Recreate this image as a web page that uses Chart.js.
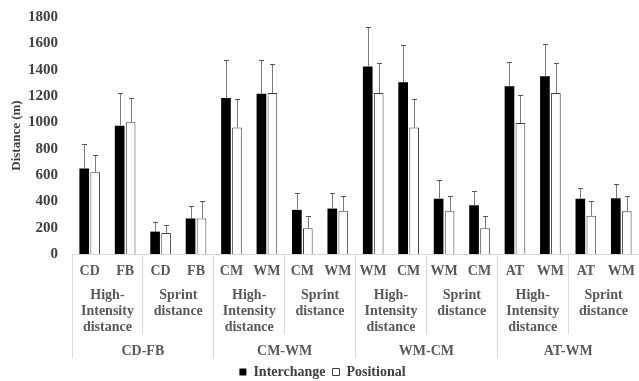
<!DOCTYPE html>
<html>
<head>
<meta charset="utf-8">
<script src="https://cdn.jsdelivr.net/npm/chart.js@4/dist/chart.umd.min.js"></script>
<style>
  body { margin: 0; background: #fff; }
  #wrap { width: 639px; height: 381px; position: relative; }
</style>
</head>
<body>
<div id="wrap"><canvas id="myChart"></canvas></div>
<script>
'use strict';

// positions on the first axis row
let positions = ['CD', 'FB', 'CD', 'FB', 'CM', 'WM', 'CM', 'WM',
                 'WM', 'CM', 'WM', 'CM', 'AT', 'WM', 'AT', 'WM'];
// second row: kind of distance
let distances = [['High-', 'Intensity', 'distance'], ['Sprint', 'distance'],
                 ['High-', 'Intensity', 'distance'], ['Sprint', 'distance'],
                 ['High-', 'Intensity', 'distance'], ['Sprint', 'distance'],
                 ['High-', 'Intensity', 'distance'], ['Sprint', 'distance']];
// third row: substitution
let pairs = ['CD-FB', 'CM-WM', 'WM-CM', 'AT-WM'];

let interchange   = [650, 975, 170, 270, 1185, 1217, 335, 345, 1425, 1305, 420, 370, 1275, 1350, 420, 423];
let interchangeSD = [185, 248, 70, 95, 290, 256, 130, 115, 300, 282, 143, 112, 180, 246, 83, 107];
let positional    = [620, 1000, 160, 270, 960, 1222, 195, 325, 1222, 960, 325, 195, 995, 1222, 290, 325];
let positionalSD  = [130, 188, 63, 130, 218, 223, 94, 114, 226, 218, 116, 94, 212, 226, 111, 116];

let yTicks = { min: 0, max: 1800, step: 200 };

let serif = 'Liberation Serif';
let lineGray = '#d9d9d9';

// draws the +SD whiskers on top of each bar
let errorBars = {
  id: 'errorBars',
  afterDatasetsDraw(chart) {
    let ctx = chart.ctx;
    let yScale = chart.scales.y;
    ctx.save();
    ctx.lineWidth = 1;
    chart.data.datasets.forEach(function (ds, d) {
      let meta = chart.getDatasetMeta(d);
      meta.data.forEach(function (bar, i) {
        let x = Math.round(bar.x) + 0.5;
        let top = Math.round(yScale.getPixelForValue(ds.data[i] + ds.sd[i])) + 0.5;
        ctx.strokeStyle = '#7a7a7a';
        ctx.beginPath();
        ctx.moveTo(x, bar.y);
        ctx.lineTo(x, top);
        ctx.stroke();
        ctx.strokeStyle = '#555';
        ctx.beginPath();
        ctx.moveTo(x - 2.5, top);
        ctx.lineTo(x + 2.5, top);
        ctx.stroke();
      });
    });
    ctx.restore();
  }
};

function boundaryColor(every) {
  return function (c) {
    if (c.index === undefined || c.index % every === 0) return lineGray;
    return 'rgba(0,0,0,0)';
  };
}

let labelFont = { family: serif, size: 14, weight: 'bold', lineHeight: 1.15 };

let ctx = document.getElementById('myChart').getContext('2d');
let myChart = new Chart(ctx, {
  type: 'bar',
  data: {
    labels: positions,
    datasets: [{
      label: 'Interchange',
      data: interchange,
      sd: interchangeSD,
      backgroundColor: '#000',
      borderColor: '#000',
      borderWidth: 0
    }, {
      label: 'Positional',
      data: positional,
      sd: positionalSD,
      backgroundColor: '#fff',
      borderColor: '#404040',
      borderWidth: 1
    }]
  },
  options: {
    responsive: true,
    maintainAspectRatio: false,
    animation: false,
    devicePixelRatio: 1,
    categoryPercentage: 0.62,
    barPercentage: 0.88,
    layout: { padding: { top: 17, left: 0, right: -6, bottom: -8 } },
    plugins: {
      tooltip: { enabled: false },
      legend: {
        position: 'bottom',
        labels: {
          boxWidth: 7,
          boxHeight: 7,
          padding: 7,
          color: '#404040',
          font: { family: serif, size: 14, weight: 'bold' }
        }
      }
    },
    scales: {
      x: {
        position: 'bottom',
        weight: 0,
        grid: { drawOnChartArea: false, offset: true, tickLength: 28, color: lineGray, tickColor: boundaryColor(2) },
        border: { display: true, color: lineGray },
        ticks: { autoSkip: false, maxRotation: 0, padding: -19, color: '#595959', font: labelFont },
        afterFit: function (s) { s.height = 28; }
      },
      x2: {
        type: 'category',
        position: 'bottom',
        weight: 1,
        labels: distances,
        offset: true,
        grid: { drawOnChartArea: false, offset: true, tickLength: 52, color: lineGray, tickColor: boundaryColor(1) },
        border: { display: false },
        ticks: { autoSkip: false, maxRotation: 0, padding: -47, color: '#595959', font: labelFont },
        afterFit: function (s) { s.height = 52; }
      },
      x3: {
        type: 'category',
        position: 'bottom',
        weight: 2,
        labels: pairs,
        offset: true,
        grid: { drawOnChartArea: false, offset: true, tickLength: 24, color: lineGray, tickColor: boundaryColor(1) },
        border: { display: false },
        ticks: { autoSkip: false, maxRotation: 0, padding: -15, color: '#595959', font: labelFont },
        afterFit: function (s) { s.height = 24; }
      },
      y: {
        min: yTicks.min,
        max: yTicks.max,
        grid: { display: false, drawTicks: false },
        border: { display: false },
        ticks: {
          stepSize: yTicks.step,
          padding: 14,
          color: '#404040',
          font: { family: serif, size: 15, weight: 'bold' },
          callback: function (v) { return String(v); }
        },
        title: {
          display: true,
          text: 'Distance (m)',
          color: '#404040',
          padding: { top: 9, bottom: 0 },
          font: { family: serif, size: 13, weight: 'bold' }
        },
        afterFit: function (s) {
          s.width = 72;
          s.paddingTop = 0;
          s.paddingBottom = 0;
        }
      }
    }
  },
  plugins: [errorBars]
});
</script>
</body>
</html>
